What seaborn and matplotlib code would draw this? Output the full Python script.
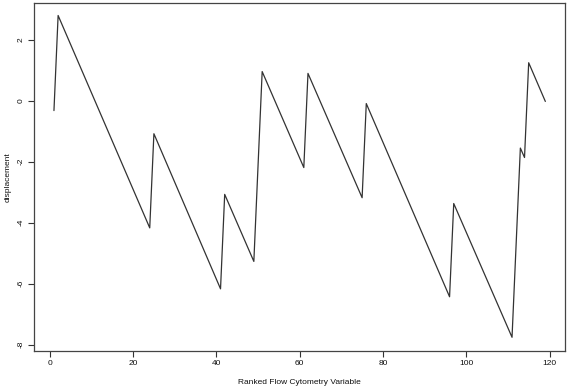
import matplotlib
matplotlib.use("Agg")
import matplotlib.pyplot as plt
import seaborn as sns
import pandas as pd

# vertices of the displacement trace
rank = [1, 2, 24, 25, 41, 42, 49, 51, 61, 62, 75, 76, 96, 97, 111, 113, 114, 115, 119]
displacement = [-0.32, 2.8, -4.17, -1.08, -6.17, -3.07, -5.27, 0.96, -2.19, 0.9,
                -3.18, -0.09, -6.43, -3.37, -7.76, -1.55, -1.86, 1.25, -0.02]
xticks = [0, 20, 40, 60, 80, 100, 120]
yticks = [2, 0, -2, -4, -6, -8]

sns.set_style("ticks")
plt.rcParams['font.family'] = ['Liberation Sans', 'DejaVu Sans']
plt.rcParams['axes.unicode_minus'] = False

df = pd.DataFrame({"rank": rank, "displacement": displacement})

fig = plt.figure(figsize=(5.67, 3.86), dpi=100)
ax = fig.add_axes([34.3 / 567, 1 - 350.7 / 386, (565 - 34.3) / 567, (350.7 - 2.7) / 386])
sns.lineplot(data=df, x="rank", y="displacement", ax=ax, color="#333333", linewidth=0.9)

ax.set_xlim(-3.72, 123.72)
ax.set_ylim(-8.2, 3.22)
ax.set_xticks(xticks)
ax.set_yticks(yticks)
ax.set_yticklabels([str(t) for t in yticks], rotation=90, va="center")
ax.tick_params(labelsize=6, length=4, width=0.8, color="#333333", labelcolor="#111111", pad=3)
for s in ax.spines.values():
    s.set_visible(True)
    s.set_color("#444444")
    s.set_linewidth(0.9)

ax.set_xlabel("Ranked Flow Cytometry Variable", fontsize=6, labelpad=8, color="#111111")
ax.set_ylabel("displacement", fontsize=6, labelpad=4, color="#111111")

fig.savefig("out.png", dpi=100)
